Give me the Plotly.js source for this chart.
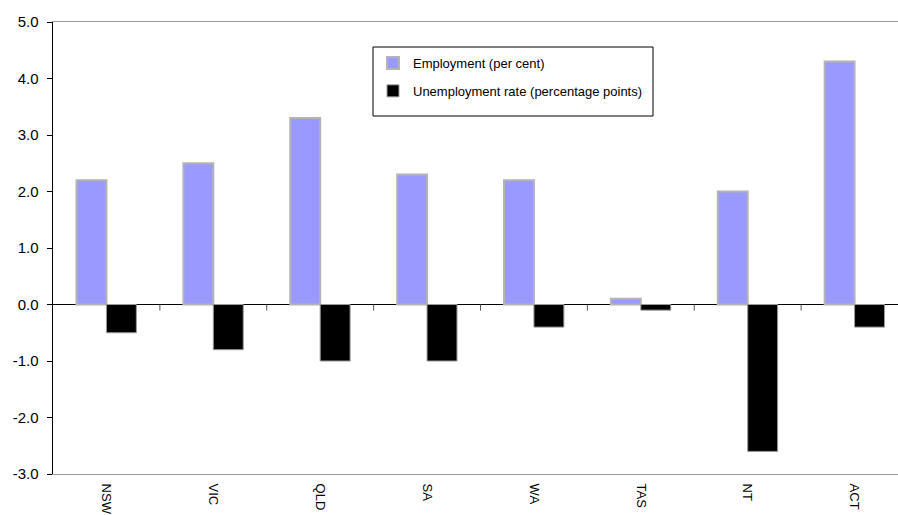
<!DOCTYPE html>
<html>
<head>
<meta charset="utf-8">
<script src="https://cdn.plot.ly/plotly-3.0.1.min.js"></script>
<style>html,body{margin:0;padding:0;background:#fff;}#chart{width:898px;height:515px;}</style>
</head>
<body>
<div id="chart"></div>
<script>
// Data
const states = ['NSW', 'VIC', 'QLD', 'SA', 'WA', 'TAS', 'NT', 'ACT'];
const employment = [2.2, 2.5, 3.3, 2.3, 2.2, 0.1, 2.0, 4.3];
const unemploymentRate = [-0.5, -0.8, -1.0, -1.0, -0.4, -0.1, -2.6, -0.4];
const seriesNames = ['Employment (per cent)', 'Unemployment rate (percentage points)'];
const yTickVals = [-3, -2, -1, 0, 1, 2, 3, 4, 5];
const yTickText = ['-3.0', '-2.0', '-1.0', '0.0', '1.0', '2.0', '3.0', '4.0', '5.0'];

const W = 898, H = 515;
const mL = 53, mR = 0, mT = 22, mB = 41;
const plotW = W - mL - mR, plotH = H - mT - mB;
const yMin = -3, yMax = 5;
// x range extends past right edge (original chart cropped)
const xRange = [-0.5, states.length - 0.5 - 10 / (plotW / (states.length - 0.09))];

function px2paperX(px) { return (px - mL) / plotW; }
function px2paperY(py) { return (H - mB - py) / plotH; }

const font = 'Arial, "Liberation Sans", sans-serif';

const traces = [
  {
    type: 'bar', x: states, y: employment, name: seriesNames[0],
    marker: { color: '#9999FF', line: { color: '#B4B4B4', width: 2 } },
    legendgroup: 'a'
  },
  {
    type: 'bar', x: states, y: unemploymentRate, name: seriesNames[1],
    marker: { color: '#000000', line: { color: '#9a9a9a', width: 1 } },
    legendgroup: 'b'
  }
];

// small tick marks hanging below the zero line at category boundaries
const tickDepth = 6 * (yMax - yMin) / plotH;
const boundaryTicks = states.slice(0, -1).map((s, i) => ({
  type: 'line', xref: 'x', yref: 'y', layer: 'above',
  x0: i + 0.5, x1: i + 0.5, y0: 0, y1: -tickDepth,
  line: { color: '#555555', width: 1 }
}));

const layout = {
  width: W, height: H,
  margin: { l: mL, r: mR, t: mT, b: mB, pad: 0 },
  paper_bgcolor: '#fff', plot_bgcolor: '#fff',
  font: { family: font, size: 13, color: '#000' },
  showlegend: true,
  barmode: 'group', bargap: 0.44, bargroupgap: 0,
  xaxis: {
    type: 'category', range: xRange,
    showgrid: false, zeroline: false,
    showline: true, linecolor: '#9a9a9a', linewidth: 1, mirror: true,
    ticks: '', tickangle: 90,
    tickfont: { family: font, size: 13, color: '#000' },
    ticklabelstandoff: 6
  },
  yaxis: {
    range: [yMin, yMax], tickvals: yTickVals, ticktext: yTickText,
    showgrid: false,
    zeroline: true, zerolinecolor: '#000', zerolinewidth: 1.5,
    showline: true, linecolor: '#000', linewidth: 1.5,
    ticks: 'outside', ticklen: 5, tickcolor: '#000', tickwidth: 1,
    tickfont: { family: font, size: 15, color: '#000' },
    ticklabelstandoff: 5
  },
  legend: {
    x: px2paperX(373), y: px2paperY(48), xanchor: 'left', yanchor: 'top',
    bgcolor: 'rgba(0,0,0,0)', borderwidth: 0,
    font: { family: font, size: 13, color: '#000' },
    tracegroupgap: 8, itemwidth: 30
  },
  shapes: [
    {
      type: 'rect', xref: 'paper', yref: 'paper',
      x0: px2paperX(373), x1: px2paperX(653), y0: px2paperY(116), y1: px2paperY(47),
      line: { color: '#000', width: 1 }, fillcolor: '#fff', layer: 'below'
    }
  ].concat(boundaryTicks)
};

Plotly.newPlot('chart', traces, layout, { displayModeBar: false, staticPlot: true });
</script>
</body>
</html>
